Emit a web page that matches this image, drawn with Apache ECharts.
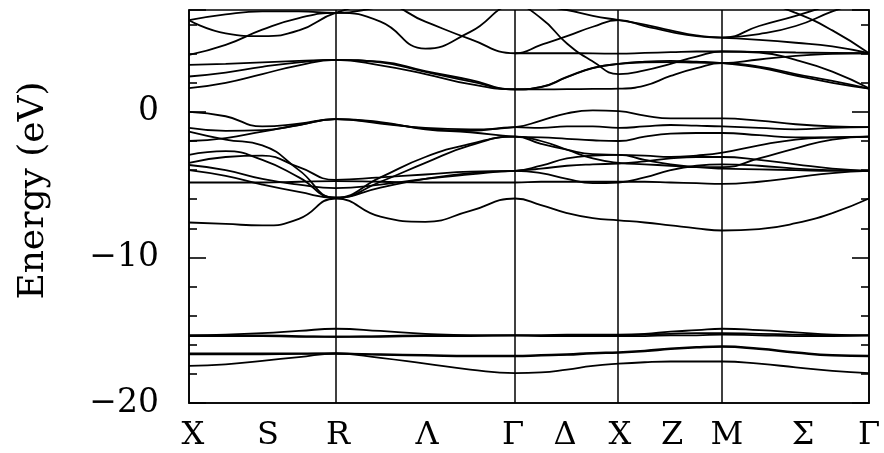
<!DOCTYPE html>
<html><head><meta charset="utf-8">
<script src="https://cdn.jsdelivr.net/npm/echarts@6/dist/echarts.min.js"></script>
<style>html,body{margin:0;padding:0;background:#fff}#chart{width:884px;height:453px}</style>
</head><body><div id="chart"></div>
<script>
// Band structure along X–S–R–Λ–Γ–Δ–X–Z–M–Σ–Γ (k in units of 2π/a)
const kPoints = [0, 0.1768, 0.3536, 0.5303, 0.7071,
  0.9236, 1.1401, 1.3566, 1.5731,
  1.6981, 1.8231, 1.9481, 2.0731,
  2.1981, 2.3231, 2.4481, 2.5731,
  2.7499, 2.9267, 3.1034, 3.2802];
const symLines = [0.7071, 1.5731, 2.0731, 2.5731];
const kLabels = ['X', 'S', 'R', 'Λ', 'Γ', 'Δ', 'X', 'Z', 'M', 'Σ', 'Γ'];
const kLabelPos = [0.019, 0.381, 0.719, 1.148, 1.563, 1.814, 2.079, 2.33, 2.595, 2.962, 3.2802];
const energyLabels = [-20, -10, 0];

// energies (eV) at kPoints; null = not drawn on that stretch
const semicore1 = [-15.35,-15.3,-15.2,-15.05,-14.9, -15.05,-15.25,-15.35,-15.35, -15.35,-15.3,-15.3,-15.3, -15.25,-15.1,-15.0,-14.9, -15.0,-15.15,-15.3,-15.35];
const semicore2 = [-15.35,-15.35,-15.35,-15.4,-15.45, -15.4,-15.35,-15.35,-15.35, -15.35,-15.35,-15.35,-15.35, -15.3,-15.25,-15.2,-15.2, -15.25,-15.3,-15.35,-15.35];
const semicore3 = [-15.4,-15.4,-15.4,-15.45,-15.45, -15.45,-15.4,-15.4,-15.35, -15.4,-15.4,-15.4,-15.4, -15.4,-15.35,-15.35,-15.3, -15.35,-15.4,-15.4,-15.35];
const s1 = [-16.6,-16.6,-16.6,-16.6,-16.6, -16.65,-16.7,-16.75,-16.75, -16.7,-16.65,-16.55,-16.5, -16.4,-16.25,-16.15,-16.1, -16.25,-16.5,-16.7,-16.75];
const s2 = [-16.66,-16.66,-16.65,-16.63,-16.6, -16.7,-16.75,-16.8,-16.8, -16.75,-16.7,-16.6,-16.55, -16.45,-16.3,-16.2,-16.15, -16.3,-16.55,-16.75,-16.8];
const s3 = [-17.45,-17.35,-17.1,-16.85,-16.6, -16.9,-17.3,-17.7,-17.95, -17.9,-17.7,-17.45,-17.3, -17.2,-17.15,-17.15,-17.15, -17.3,-17.55,-17.8,-17.95];
const v0 = [-7.6,-7.7,-7.8,-7.35,-5.95, -7.2,-7.55,-6.8,-5.95, -6.4,-6.95,-7.3,-7.45, -7.6,-7.8,-8.0,-8.15, -8.05,-7.65,-6.95,-5.95];
const vFlat = [-4.85,-4.85,-4.85,-4.8,-4.75, -4.8,-4.85,-4.85,-4.85, -4.8,-4.8,-4.8,-4.8, -4.8,-4.85,-4.9,-4.95, -4.8,-4.5,-4.2,-4.05];
const vA = [0.0,-0.3,-1.0,-0.8,-0.5, -0.8,-1.1,-1.2,-1.05, -0.6,-0.1,0.1,0.05, -0.25,-0.45,-0.45,-0.45, -0.6,-0.85,-1.0,-1.05];
const vB = [-1.1,-1.3,-1.25,-0.9,-0.5, -0.75,-1.15,-1.3,-1.05, -1.1,-1.0,-1.0,-1.1, -1.0,-0.9,-0.95,-1.0, -1.1,-1.2,-1.1,-1.05];
const vC = [-1.35,-1.9,-2.3,-4.0,-5.9, -4.5,-3.1,-2.2,-1.7, -2.2,-2.6,-2.9,-2.95, -3.0,-3.1,-3.0,-2.8, -2.3,-1.9,-1.75,-1.7];
const vD = [-2.0,-1.8,-1.35,-0.9,-0.5, -0.7,-1.2,-1.4,-1.7, -1.75,-1.85,-1.95,-2.0, -1.7,-1.5,-1.45,-1.45, -1.6,-1.75,-1.75,-1.7];
const vE = [-2.95,-2.7,-3.3,-4.5,-5.9, -5.2,-4.6,-4.2,-4.05, -3.9,-3.7,-3.6,-3.55, -3.4,-3.2,-3.1,-3.1, -3.3,-3.6,-3.9,-4.05];
const vF = [-3.5,-3.1,-3.0,-3.8,-4.67, -4.5,-4.3,-4.1,-4.05, -3.7,-3.2,-3.0,-2.95, -3.3,-3.6,-3.8,-3.9, -3.95,-4.0,-4.05,-4.05];
const vG = [-3.65,-4.0,-4.6,-5.0,-5.24, -5.0,-4.6,-4.3,-4.05, -4.2,-4.6,-4.9,-4.85, -4.5,-4.0,-3.7,-3.6, -3.7,-3.9,-4.0,-4.05];
const vH = [-4.0,-4.4,-5.0,-5.5,-5.9, -4.8,-3.5,-2.3,-1.7, -2.0,-2.6,-3.2,-3.5, -3.6,-3.7,-3.8,-3.8, -3.2,-2.5,-1.9,-1.7];
const c1 = [1.63,2.0,2.6,3.2,3.57, 3.2,2.6,1.9,1.55, 1.55,1.56,1.58,1.6, 1.81,2.47,3.0,3.35, 3.11,2.6,2.13,1.6];
const c2 = [2.43,2.7,3.1,3.4,3.57, 3.45,2.8,2.2,1.55, 1.7,2.38,3.0,3.3, 3.45,3.5,3.45,3.35, 3.05,2.5,2.0,1.6];
const c3 = [3.23,3.3,3.4,3.5,3.57, 3.4,2.75,2.1,1.55, 1.72,2.4,3.02,3.3, 3.4,3.42,3.38,3.35, 3.6,3.85,3.98,4.03];
const c4 = [3.92,4.6,5.65,6.45,6.8, 6.2,4.35,5.5,7.3, 6.44,4.7,3.46,2.6, 2.85,3.3,3.8,4.15, 4.08,3.57,2.77,1.62];
const c5 = [6.3,5.4,5.2,5.6,6.8, 7.4,6.2,5.0,4.03, 4.6,5.2,5.85,6.3, 5.9,5.5,5.2,5.1, 4.95,4.75,4.5,4.03];
const c6 = [6.3,6.7,6.9,6.9,6.8, 7.2,7.6,7.8,7.6, 7.3,7.0,6.6,6.3, 6.0,5.6,5.25,5.1, 5.9,6.6,7.4,8.2];
const c7 = [null,null,null,null,null, null,null,null,4.03, 4.03,4.03,4.02,4.0, 4.05,4.1,4.15,4.15, 4.12,4.08,4.05,4.03];
const c8 = [null,null,null,null,null, null,null,null,null, null,null,null,null, null,null,null,8.0, 7.6,6.8,5.6,4.03];
const c9 = [null,null,null,null,null, null,null,null,null, null,null,null,null, null,null,null,5.1, 5.35,5.9,6.9,7.8];

const bands = [semicore1, semicore2, semicore3, s1, s2, s3, v0, vFlat, vA, vB, vC, vD, vE, vF, vG, vH,
  c1, c2, c3, c4, c5, c6, c7, c8, c9];

const chart = echarts.init(document.getElementById('chart'));
const serif = 'DejaVu Serif';
const yCommon = {
  type: 'value', min: -20, max: 7, interval: 10,
  axisLine: { show: true, lineStyle: { color: '#000', width: 1.6 } },
  axisTick: { show: true, inside: true, length: 17, lineStyle: { color: '#000', width: 1.6 } },
  minorTick: { show: true, splitNumber: 5, length: 8, lineStyle: { color: '#000', width: 1.6 } },
  splitLine: { show: false }
};
const series = bands.map(b => ({
  type: 'line', data: kPoints.map((k, i) => [k, b[i]]),
  smooth: 0.5, symbol: 'none', silent: true, connectNulls: false,
  lineStyle: { color: '#000', width: 1.8 }
}));
series.push({
  type: 'line', data: [], silent: true,
  markLine: {
    silent: true, symbol: 'none', label: { show: false },
    lineStyle: { color: '#000', width: 1.5, type: 'solid' },
    data: symLines.map(k => ({ xAxis: k }))
  }
});
chart.setOption({
  animation: false,
  grid: { left: 189, right: 15, top: 10, bottom: 50, show: true, borderColor: '#000', borderWidth: 1.6 },
  xAxis: {
    type: 'value', min: 0, max: 3.2802,
    axisLine: { show: true, onZero: false, lineStyle: { color: '#000', width: 1.6 } },
    axisTick: { show: false }, splitLine: { show: false },
    axisLabel: {
      customValues: kLabelPos, margin: 17, color: '#000', fontFamily: serif, fontSize: 32,
      formatter: v => { const i = kLabelPos.findIndex(p => Math.abs(p - v) < 1e-3); return i >= 0 ? kLabels[i] : ''; }
    }
  },
  yAxis: [
    Object.assign({}, yCommon, {
      position: 'left', name: 'Energy (eV)', nameLocation: 'middle', nameGap: 137, nameRotate: 90,
      nameTextStyle: { color: '#000', fontFamily: serif, fontSize: 36, padding: [0, 0, 0, 32] },
      axisLabel: { margin: 30, color: '#000', fontFamily: serif, fontSize: 33,
        formatter: v => energyLabels.indexOf(v) >= 0 ? (v < 0 ? '\u2212' + (-v) : '' + v) : '' }
    }),
    Object.assign({}, yCommon, { position: 'right', axisLabel: { show: false } })
  ],
  series: series
});
</script></body></html>
